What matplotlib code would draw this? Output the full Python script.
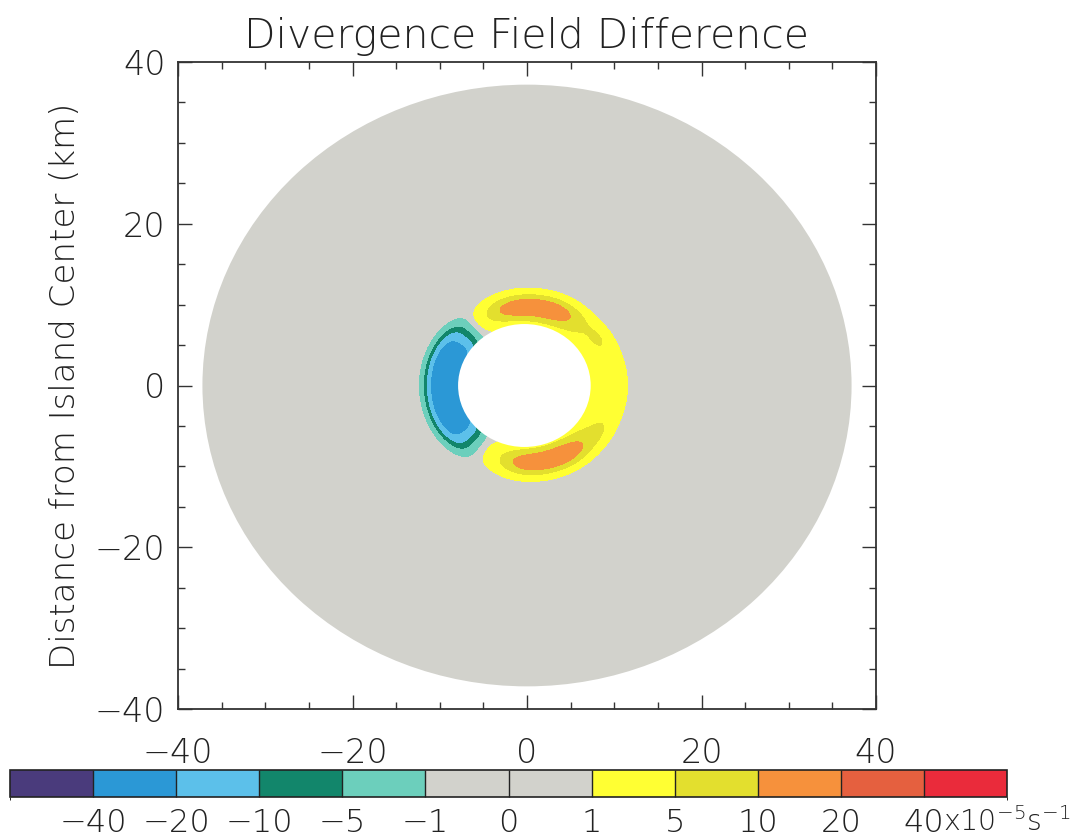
import numpy as np
import matplotlib
matplotlib.use('Agg')
import matplotlib.pyplot as plt
from matplotlib.colors import ListedColormap, BoundaryNorm
from matplotlib.patches import Circle
from matplotlib.ticker import MultipleLocator
from matplotlib.cm import ScalarMappable

plt.rcParams['font.family'] = ['DejaVu Sans']
plt.rcParams['font.weight'] = 'light'
plt.rcParams['axes.titleweight'] = 'light'
plt.rcParams['axes.labelweight'] = 'light'
plt.rcParams['axes.unicode_minus'] = True
plt.rcParams['mathtext.fontset'] = 'custom'
plt.rcParams['mathtext.rm'] = 'DejaVu Sans:light'
plt.rcParams['mathtext.it'] = 'DejaVu Sans:light'
plt.rcParams['mathtext.bf'] = 'DejaVu Sans:light'

# ---------------- data ----------------
title = "Divergence Field Difference"
ylabel = "Distance from Island Center (km)"
axis_ticks = [-40, -20, 0, 20, 40]

# contour class boundaries (10^-5 s^-1); outer ends are open classes
level_bounds = [-80, -40, -20, -10, -5, -1, 0, 1, 5, 10, 20, 40, 80]
level_colors = ['#4a3b7c', '#2b98d6', '#5cc0ea', '#12866b', '#6ccfbc',
                '#d2d2cc', '#d2d2cc', '#ffff33', '#e3df2e', '#f6913c',
                '#e5603f', '#ea2b3b']
cbar_tick_labels = ['\u221240', '\u221220', '\u221210', '\u22125', '\u22121',
                    '0', '1', '5', '10', '20', '40']
cbar_unit = r'$\mathrm{x10^{-5}s^{-1}}$'

# model domain (km)
domain_radius = 37.2
island_radius = 7.6
island_center_x = -0.3
island_center_y = 0.0

# divergence-difference features (polar blobs)
feat_amp    = [-40.0, 3.8, 13.0, 13.0, 1.8, 1.8]
feat_r0     = [9.2, 9.2, 9.7, 9.5, 10.0, 10.0]
feat_rwidth = [2.1, 2.1, 1.4, 1.4, 1.0, 1.0]
feat_theta0 = [182.0, 0.0, 86.0, -76.0, 36.0, -36.0]
feat_twidth = [40.0, 110.0, 30.0, 30.0, 10.0, 10.0]
feat_rpow   = [3, 3, 2, 2, 2, 2]
feat_tpow   = [4, 4, 3, 3, 2, 2]

# ---------------- field ----------------
xg = np.linspace(-40, 40, 801)
X, Y = np.meshgrid(xg, xg)
R = np.hypot(X, Y)
TH = np.degrees(np.arctan2(Y, X))
F = np.zeros_like(X)
for a, r0, sr, t0, st, p, q in zip(feat_amp, feat_r0, feat_rwidth, feat_theta0,
                                   feat_twidth, feat_rpow, feat_tpow):
    dt = (TH - t0 + 180.0) % 360.0 - 180.0
    F += a * np.exp(-np.abs((R - r0) / sr) ** p) * np.exp(-np.abs(dt / st) ** q)
Fm = np.ma.masked_where((R > domain_radius - 1.0) | (R < island_radius - 1.0), F)

cmap = ListedColormap(level_colors)
norm = BoundaryNorm(level_bounds, cmap.N)

# ---------------- figure ----------------
fig = plt.figure(figsize=(10.79, 8.39), dpi=100)
ax = fig.add_axes([178/1079, 1-709/839, 698/1079, 647/839])

ax.add_patch(Circle((0, 0), domain_radius, facecolor=level_colors[5],
                    edgecolor='none', zorder=0))
ax.contourf(X, Y, Fm, levels=level_bounds, cmap=cmap, norm=norm, zorder=1)
ax.add_patch(Circle((island_center_x, island_center_y), island_radius,
                    facecolor='white', edgecolor='none', zorder=2))

ax.set_xlim(-40, 40)
ax.set_ylim(-40, 40)
ax.set_xticks(axis_ticks)
ax.set_yticks(axis_ticks)
ax.xaxis.set_minor_locator(MultipleLocator(5))
ax.yaxis.set_minor_locator(MultipleLocator(5))
ax.tick_params(which='both', direction='in', top=True, right=True,
               labelsize=24, colors='#333333', labelcolor='#222222', width=1.0)
ax.tick_params(which='major', length=10)
ax.tick_params(which='minor', length=5)
ax.tick_params(axis='x', pad=20)
ax.tick_params(axis='y', pad=9)
for s in ax.spines.values():
    s.set_linewidth(1.3)
    s.set_color('#333333')

ax.set_title(title, fontsize=29.5, color='#222222', pad=10)
ax.set_ylabel(ylabel, fontsize=24.5, color='#222222', labelpad=9)

# ---------------- colorbar ----------------
cax = fig.add_axes([10/1079, 1-797/839, 997/1079, 27/839])
sm = ScalarMappable(norm=norm, cmap=cmap)
cb = fig.colorbar(sm, cax=cax, orientation='horizontal', spacing='uniform',
                  ticks=level_bounds[1:-1], drawedges=True)
cb.set_ticklabels(cbar_tick_labels)
cb.outline.set_linewidth(1.2)
cb.outline.set_edgecolor('#222222')
cb.dividers.set_color('#222222')
cb.dividers.set_linewidth(1.0)
cax.tick_params(length=0, labelsize=23, labelcolor='#222222', pad=8)
cax.annotate(cbar_unit, xy=(level_bounds[-2], 0), xycoords=('data', 'axes fraction'),
             xytext=(14, -7), textcoords='offset points', ha='left', va='top',
             fontsize=20.5, color='#222222')

fig.savefig('out.png', dpi=100)
